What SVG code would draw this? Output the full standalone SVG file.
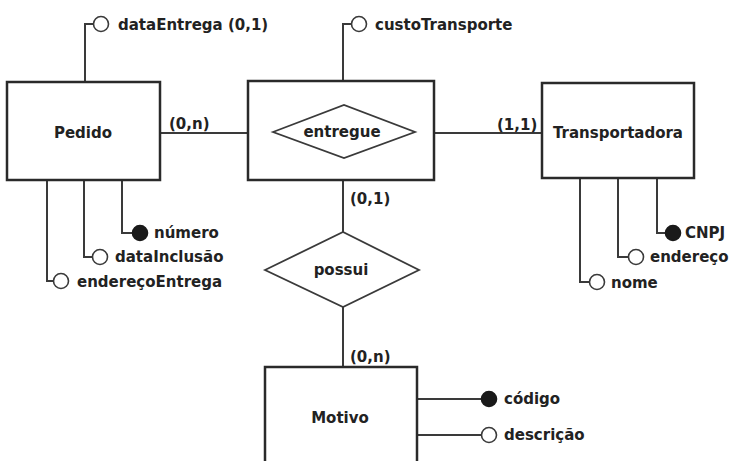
<svg xmlns="http://www.w3.org/2000/svg" width="730" height="461" viewBox="0 0 730 461">
<style>
.box{fill:#fff;stroke:#2a2a2a;stroke-width:2.5}
.rel{fill:#fff;stroke:#3a3a3a;stroke-width:1.8}
.ln{fill:none;stroke:#3a3a3a;stroke-width:2}
.att{fill:#fff;stroke:#3a3a3a;stroke-width:1.6}
.key{fill:#1a1a1a;stroke:#1a1a1a;stroke-width:1.6}
text{font-family:"DejaVu Sans",Verdana,sans-serif;font-weight:bold;font-size:15px;fill:#222}
.c{text-anchor:middle}
</style>
<rect width="730" height="461" fill="#fff"/>
<g id="connectors">
<path class="ln" d="M160,133 H273 M415,133 H542"/>
<path class="ln" d="M343,180 V232 M343,307 V367"/>
<path class="ln" d="M85,82 V24 H93"/>
<path class="ln" d="M343,81 V24 H351"/>
<path class="ln" d="M122,180 V233 H133 M84,180 V257 H93 M47,180 V281 H53"/>
<path class="ln" d="M657,178 V233 H666 M618,178 V257 H629 M580,178 V282 H590"/>
<path class="ln" d="M417,399 H481 M417,435 H481"/>
</g>
<g id="entregue-agg">
<rect class="box" x="248" y="81" width="186" height="99"/>
</g>
<g id="Pedido">
<rect class="box" x="7" y="82" width="153" height="98"/>
<text class="c" x="83" y="138">Pedido</text>
</g>
<g id="entregue">
<polygon class="rel" points="273,132 344,105 415,132 344,158"/>
<text class="c" x="342" y="137">entregue</text>
</g>
<g id="Transportadora">
<rect class="box" x="542" y="83" width="152" height="95"/>
<text class="c" x="618" y="138">Transportadora</text>
</g>
<g id="possui">
<polygon class="rel" points="265,270 343,232 419,270 343,307"/>
<text class="c" x="341" y="275">possui</text>
</g>
<g id="Motivo">
<rect class="box" x="265" y="367" width="152" height="110"/>
<text class="c" x="340" y="423">Motivo</text>
</g>
<g id="labels">
<text x="169" y="129">(0,n)</text>
<text x="497" y="130">(1,1)</text>
<text x="350" y="204">(0,1)</text>
<text x="350" y="362">(0,n)</text>
</g>
<g id="attr-dataEntrega"><circle class="att" cx="101" cy="24" r="7.5"/><text x="118" y="30">dataEntrega (0,1)</text></g>
<g id="attr-custoTransporte"><circle class="att" cx="359" cy="24" r="7.5"/><text x="375" y="30">custoTransporte</text></g>
<g id="attr-numero"><circle class="key" cx="140" cy="233" r="7.5"/><text x="154" y="238">número</text></g>
<g id="attr-dataInclusao"><circle class="att" cx="100" cy="257" r="7.5"/><text x="115" y="262">dataInclusão</text></g>
<g id="attr-enderecoEntrega"><circle class="att" cx="61" cy="281" r="7.5"/><text x="77" y="287">endereçoEntrega</text></g>
<g id="attr-CNPJ"><circle class="key" cx="673" cy="233" r="7.5"/><text x="685" y="238">CNPJ</text></g>
<g id="attr-endereco"><circle class="att" cx="636" cy="257" r="7.5"/><text x="650" y="262">endereço</text></g>
<g id="attr-nome"><circle class="att" cx="597" cy="282" r="7.5"/><text x="611" y="288">nome</text></g>
<g id="attr-codigo"><circle class="key" cx="489" cy="399" r="7.5"/><text x="504" y="404">código</text></g>
<g id="attr-descricao"><circle class="att" cx="489" cy="435" r="7.5"/><text x="504" y="440">descrição</text></g>
</svg>
